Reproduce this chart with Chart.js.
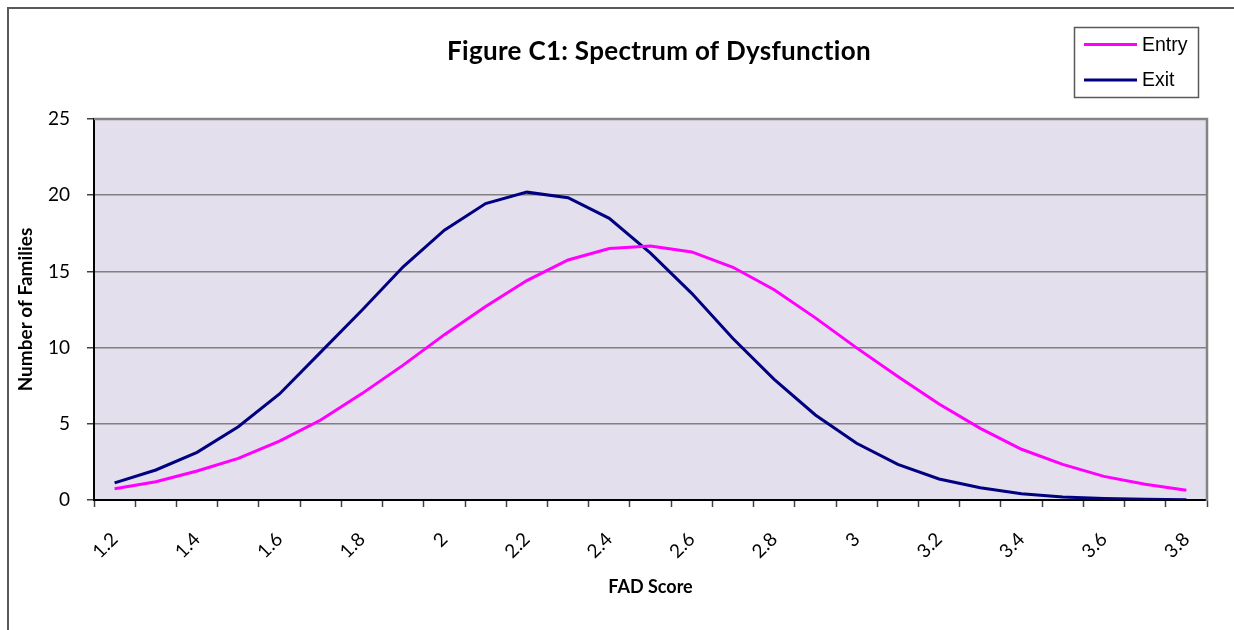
<!DOCTYPE html>
<html>
<head>
<meta charset="utf-8">
<script src="https://cdn.jsdelivr.net/npm/chart.js@4"></script>
<style>
  body { margin: 0; background: #fff; }
  #frame { position: absolute; left: 7px; top: 7px; width: 1300px; height: 700px;
           border-left: 2px solid #595959; border-top: 2px solid #595959; }
  #wrap { position: absolute; left: 0; top: 0; width: 1234px; height: 630px; }
</style>
</head>
<body>
<div id="frame"></div>
<div id="wrap"><canvas id="dysChart" width="1234" height="630"></canvas></div>
<script>
// FAD score categories 1.2 .. 3.8
const fadScores = ['1.2','1.3','1.4','1.5','1.6','1.7','1.8','1.9','2','2.1','2.2','2.3','2.4','2.5',
                   '2.6','2.7','2.8','2.9','3','3.1','3.2','3.3','3.4','3.5','3.6','3.7','3.8']

const entryFamilies = [0.74, 1.2, 1.9, 2.73, 3.87, 5.25, 6.98, 8.85, 10.85, 12.7, 14.4, 15.75, 16.5, 16.67,
                       16.28, 15.27, 13.8, 11.95, 9.98, 8.1, 6.3, 4.7, 3.33, 2.34, 1.55, 1.03, 0.64]
const exitFamilies = [1.12, 1.97, 3.13, 4.81, 6.96, 9.7, 12.45, 15.3, 17.7, 19.45, 20.2, 19.84, 18.48, 16.2,
                      13.56, 10.6, 7.92, 5.58, 3.72, 2.34, 1.38, 0.81, 0.41, 0.2, 0.1, 0.05, 0.02]

const seriesNames = ['Entry', 'Exit']
const seriesColors = ['#ff00ff', '#000080']

const titleText = 'Figure C1: Spectrum of Dysfunction'

const calibriLike = 'Lato, "Open Sans", sans-serif'

// plot background + grey top/right edge
const plotFrame = {
    id: 'plotFrame',
    beforeDraw(chart) {
        const {ctx, chartArea: {left, right, top, bottom}} = chart
        ctx.save()
        ctx.fillStyle = '#e4dfec'
        ctx.fillRect(left, top, right - left, bottom - top)
        ctx.restore()
    },
    afterDraw(chart) {
        const {ctx, chartArea: {left, right, top, bottom}} = chart
        ctx.save()
        ctx.strokeStyle = '#848484'
        ctx.lineWidth = 2.5
        ctx.beginPath()
        ctx.moveTo(left, top)
        ctx.lineTo(right, top)
        ctx.lineTo(right, bottom + 1)
        ctx.stroke()
        ctx.restore()
    }
}

// title and boxed legend, Excel style
const titleLegend = {
    id: 'titleLegend',
    afterDraw(chart) {
        const ctx = chart.ctx
        ctx.save()
        ctx.font = 'bold 26px ' + calibriLike
        ctx.letterSpacing = '0.3px'   // also stops Lato's "ti" ligature
        ctx.fillStyle = '#000'
        ctx.textAlign = 'center'
        ctx.textBaseline = 'middle'
        ctx.fillText(titleText, 659, 52)
        ctx.letterSpacing = '0px'

        ctx.strokeStyle = '#595959'
        ctx.lineWidth = 1.5
        ctx.strokeRect(1074.5, 27.5, 124, 70)

        ctx.font = '19.5px "Liberation Sans", Arial, sans-serif'
        ctx.textAlign = 'left'
        chart.data.datasets.forEach((ds, i) => {
            const y = 44.5 + i * 35.5
            ctx.strokeStyle = ds.borderColor
            ctx.lineWidth = 3
            ctx.beginPath()
            ctx.moveTo(1084, y)
            ctx.lineTo(1137, y)
            ctx.stroke()
            ctx.fillStyle = '#000'
            ctx.fillText(ds.label, 1142, y + 1)
        })
        ctx.restore()
    }
}

const ctx = document.getElementById('dysChart').getContext('2d')

new Chart(ctx, {
    type: 'line',
    data: {
        labels: fadScores,
        datasets: [{
            label: seriesNames[0],
            data: entryFamilies,
            borderColor: seriesColors[0],
            backgroundColor: seriesColors[0],
            borderWidth: 3,
            pointRadius: 0,
            tension: 0
        }, {
            label: seriesNames[1],
            data: exitFamilies,
            borderColor: seriesColors[1],
            backgroundColor: seriesColors[1],
            borderWidth: 3,
            pointRadius: 0,
            tension: 0
        }]
    },
    plugins: [plotFrame, titleLegend],
    options: {
        responsive: false,
        animation: false,
        layout: {
            padding: {left: 7, top: 119, right: 27, bottom: 0}
        },
        scales: {
            x: {
                offset: true,
                afterFit: (scale) => { scale.height = 130 },
                border: {color: '#000', width: 2},
                grid: {
                    offset: true,
                    drawOnChartArea: false,
                    drawTicks: true,
                    tickLength: 7,
                    tickColor: '#404040',
                    tickWidth: 1.5
                },
                ticks: {
                    autoSkip: false,
                    minRotation: 45,
                    maxRotation: 45,
                    padding: 21,
                    color: '#000',
                    font: {family: calibriLike, size: 19},
                    callback: function(val, index) {
                        return index % 2 === 0 ? this.getLabelForValue(val) : ''
                    }
                },
                title: {
                    display: true,
                    text: 'FAD Score',
                    color: '#000',
                    font: {family: calibriLike, size: 18, weight: 'bold'},
                    padding: {top: 0, bottom: 32}
                }
            },
            y: {
                min: 0,
                max: 25,
                afterFit: (scale) => { scale.width = 87 },
                border: {color: '#000', width: 2},
                grid: {
                    color: '#808080',
                    lineWidth: 1.5,
                    tickLength: 7,
                    tickColor: '#404040'
                },
                ticks: {
                    stepSize: 5,
                    padding: 17,
                    color: '#000',
                    font: {family: calibriLike, size: 19}
                },
                title: {
                    display: true,
                    text: 'Number of Families',
                    color: '#000',
                    font: {family: calibriLike, size: 19, weight: 'bold'},
                    padding: {top: 7, bottom: 0}
                }
            }
        },
        plugins: {
            legend: {display: false},
            title: {display: false},
            tooltip: {enabled: false}
        }
    }
})
</script>
</body>
</html>
